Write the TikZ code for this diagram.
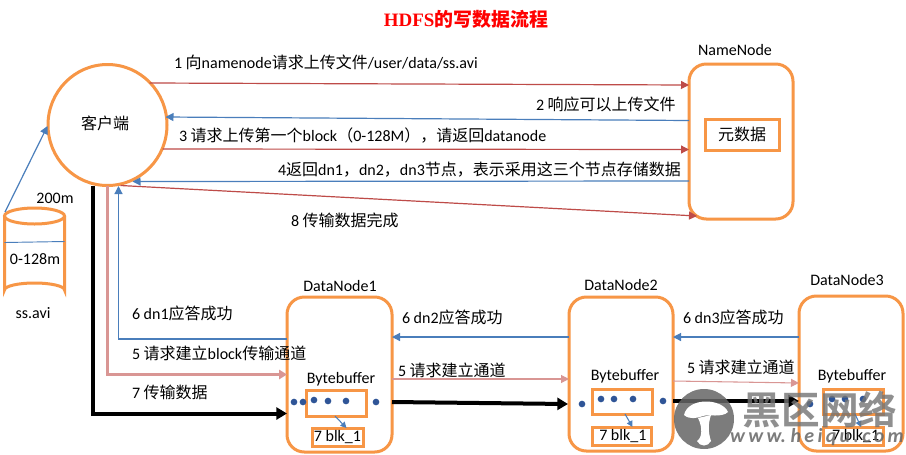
\documentclass[tikz,border=0pt]{standalone}
\usepackage{fontspec}
\usetikzlibrary{arrows.meta,shapes.geometric,calc}
\setmainfont{Carlito}
\newfontfamily\cjk{Noto Sans CJK SC}
\newfontfamily\titlefont{Liberation Serif}[BoldFont={Liberation Serif Bold}]
\newfontfamily\cjkb{Noto Sans CJK SC Bold}
\newcommand{\z}[1]{{\cjk #1}}
\definecolor{org}{HTML}{F79646}
\definecolor{redl}{HTML}{BE4B48}
\definecolor{bluel}{HTML}{4A7EBB}
\definecolor{pinkl}{HTML}{D99694}
\definecolor{dotc}{HTML}{2F5597}
\tikzset{
 every node/.style={font=\fontsize{12}{14}\selectfont,inner sep=0pt,outer sep=0pt},
 box/.style={draw=org,line width=2.25pt,rounded corners=13pt,fill=white},
 inbox/.style={draw=org,line width=2.25pt},
 lab/.style={anchor=west},
 redarrow/.style={draw=redl,line width=0.9pt,-{Triangle[length=6pt,width=6pt]}},
 bluearrow/.style={draw=bluel,line width=0.9pt,-{Triangle[length=6pt,width=6pt]}},
 pinkarrow/.style={draw=pinkl,line width=0.8pt,-{Triangle[length=6pt,width=6pt]}},
 pinkthick/.style={draw=pinkl,line width=2.8pt,-{Triangle[length=6pt,width=7pt]}},
 blackarrow/.style={draw=black,line width=3pt,-{Triangle[length=8pt,width=9pt]}},
 smallarrow/.style={draw=bluel,line width=0.8pt,-{Triangle[length=4.5pt,width=4.5pt]}},
 dotn/.style={circle,fill=dotc,minimum size=5pt},
}
\begin{document}
\begin{tikzpicture}[x=0.75pt,y=-0.75pt]
\useasboundingbox[fill=white] (0,0) rectangle (906,454);
% title
\node (title) at (466,19) {\fontsize{14.2}{16}\selectfont\color{red}\titlefont\bfseries HDFS\cjkb 的写数据流程};
% client
\node[ellipse,draw=org,line width=2.25pt,fill=white,minimum width=119*0.75pt,minimum height=121*0.75pt] (client) at (107.5,125) {};
\node at (105,123) (clientlab) {\z{客户端}};
% namenode
\node[box,minimum width=104*0.75pt,minimum height=155*0.75pt] (nn) at (741,141.5) {};
\node[inbox,minimum width=74*0.75pt,minimum height=31*0.75pt] (meta) at (742,134.5) {\z{元数据}};
\node (nnlab) at (735,50) {NameNode};
% cylinder
\draw[org,line width=2.25pt,fill=white] (4.5,216) -- (4.5,290) arc[start angle=180,end angle=360,x radius=30,y radius=7] -- (64.5,216);
\draw[org,line width=2.25pt] (34.5,216) ellipse[x radius=30,y radius=8];
\coordinate (filetop) at (5,212);
\coordinate (mid1) at (4.5,242.5);
\coordinate (mid2) at (64.5,241.5);
\draw[bluel,line width=0.7pt] (mid1) -- (mid2);
\node (s200) at (55,198) {200m};
\node (s128) at (35,259) {0-128m};
\node (savi) at (33,313) {ss.avi};
% datanodes
\node[box,minimum width=105*0.75pt,minimum height=155*0.75pt] (dn1) at (339.5,374.5) {};
\node[box,minimum width=104*0.75pt,minimum height=154*0.75pt] (dn2) at (621,374) {};
\node[box,minimum width=104*0.75pt,minimum height=155*0.75pt] (dn3) at (851,373.5) {};
\node (dn1lab) at (340,286) {DataNode1};
\node (dn2lab) at (621,285) {DataNode2};
\node (dn3lab) at (847,280) {DataNode3};
\node (bb1) at (341,379) {Bytebuffer};
\node (bb2) at (625,376) {Bytebuffer};
\node (bb3) at (852,376) {Bytebuffer};
\node[inbox,minimum width=60*0.75pt,minimum height=26*0.75pt] (in1) at (336,403) {};
\node[inbox,minimum width=60*0.75pt,minimum height=25*0.75pt] (in2) at (622,401.5) {};
\node[inbox,minimum width=60*0.75pt,minimum height=25*0.75pt] (in3) at (853,401.5) {};
\node[inbox,minimum width=51*0.75pt,minimum height=18*0.75pt] (blk1) at (337.5,437) {7 blk\_1};
\node[inbox,minimum width=59*0.75pt,minimum height=18*0.75pt] (blk2) at (621.5,436) {\,7 blk\_1};
\node[inbox,minimum width=60*0.75pt,minimum height=18*0.75pt] (blk3) at (853,436) {\,\,7 blk\_1};
% dots
\foreach \n/\x/\y in {a/294/402,b/303/402,c/314/400,d/328/401,e/346/401,f/376/402,
  g/582/404,h/601/399,i/614/399,j/633/399,k/663/401,
  l/810/404,m/832/399,o/845/399,p/863/399}
  \node[dotn] (dot\n) at (\x,\y) {};
% top arrows
\draw[redarrow] ($(client.center)+(42,-42)$) -- ($(nn.west)+(0,-56.5)$);
\draw[bluearrow] ($(nn.west)+(0,-21)$) -- ($(client.center)+(58,-8)$);
\draw[redarrow] ($(client.center)+(55,24)$) -- ($(nn.west)+(0,8)$);
\draw[bluearrow] ($(nn.west)+(0,39.5)$) -- ($(client.center)+(25,56.5)$);
\draw[redarrow] ($(client.center)+(13,60.5)$) -- ($(nn.south west)+(8,-3)$);
\draw[bluearrow] (filetop) -- ($(client.center)+(-60,1)$);
% client to dn1
\draw[bluearrow] ($(dn1.west)+(0,-35.5)$) -| ($(client.center)+(11,61)$);
\draw[pinkthick] (client.south) |- (dn1.west);
\draw[blackarrow] ($(client.center)+(-14.5,61)$) |- ($(dn1.west)+(0,39)$);
% between datanodes
\draw[bluearrow] ($(dn2.west)+(0,-37)$) -- ($(dn1.east)+(0,-37.5)$);
\draw[bluearrow] ($(dn3.west)+(0,-36.5)$) -- ($(dn2.east)+(0,-37)$);
\draw[pinkarrow] ($(dn1.east)+(0,4.5)$) -- ($(dn2.west)+(0,5)$);
\draw[pinkarrow] ($(dn2.east)+(0,7)$) -- ($(dn3.west)+(0,9.5)$);
\draw[blackarrow] ($(dn1.east)+(0,27.5)$) -- ($(dn2.west)+(-1,30)$);
\draw[blackarrow] ($(dn2.east)+(0,27)$) -- ($(dn3.west)+(0,27.5)$);
% inner small arrows
\draw[smallarrow] ($(in1.south)+(-1,0)$) -- ($(blk1.north)+(9,0)$);
\draw[smallarrow] ($(in2.south)+(3,0)$) -- ($(blk2.north)+(11,0)$);
\draw[smallarrow] ($(in3.south)+(2,0)$) -- ($(blk3.north)+(8,0)$);
% labels
\node[lab] (t1) at (174,62) {1 \z{向}namenode\z{请求上传文件}/user/data/ss.avi};
\node[lab] (t2) at (536,104) {2 \z{响应可以上传文件}};
\node[lab] (t3) at (179,136) {3 \z{请求上传第一个}block\z{（}0-128M\z{），请返回}datanode};
\node[lab] (t4) at (278,170) {4\z{返回}dn1\z{，}dn2\z{，}dn3\z{节点，表示采用这三个节点存储数据}};
\node[lab] (t8) at (291,220) {8 \z{传输数据完成}};
\node[lab] (t61) at (132,313) {6 dn1\z{应答成功}};
\node[lab] (t51) at (132,353) {5 \z{请求建立}block\z{传输通道}};
\node[lab] (t71) at (132,392) {7 \z{传输数据}};
\node[lab] (t62) at (402,317) {6 dn2\z{应答成功}};
\node[lab] (t52) at (398,370) {5 \z{请求建立通道}};
\node[lab] (t63) at (683,317) {6 dn3\z{应答成功}};
\node[lab] (t53) at (687,367) {5 \z{请求建立通道}};
% watermark
\fill[black!60,opacity=0.85] (704,419) circle[radius=30];
\fill[white] (684,415) .. controls (688,397) and (722,398) .. (728,412) .. controls (722,418) and (708,414) .. (703,416) .. controls (697,418) and (690,420) .. (684,415);
\fill[white] (698,418) .. controls (703,428) and (702,438) .. (697,441) .. controls (700,447) and (708,447) .. (711,441) .. controls (708,432) and (708,424) .. (711,415) -- cycle;
\node[text=black!55,opacity=0.8] (wm1) at (820,410) {\fontsize{29}{32}\selectfont\cjkb 黑区网络};
\node[text=black!60,opacity=0.85] (wm2) at (817,437) {\fontsize{15}{17}\selectfont\bfseries\itshape w\,w\,w.\ h\,e\,i\,q\,u\,.\,c\,o\,m};
\end{tikzpicture}
\end{document}
